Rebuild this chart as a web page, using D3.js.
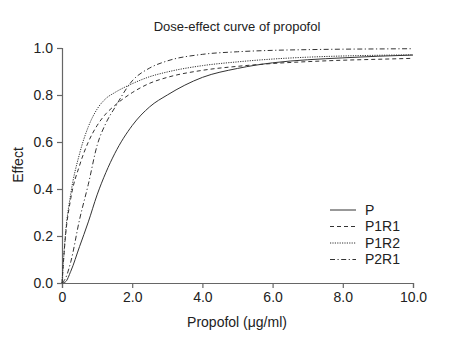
<!DOCTYPE html>
<html>
<head>
<meta charset="utf-8">
<script src="https://cdn.jsdelivr.net/npm/d3@7"></script>
<style>
  body { margin: 0; background: #fff; }
  svg { font-family: "Liberation Sans", Arial, sans-serif; }
</style>
</head>
<body>
<div id="chart"></div>
<script>
// dose grid (µg/ml) and effect readings for each group
const doses = [0, 0.1, 0.25, 0.5, 0.75, 1, 1.25, 1.5, 2, 2.5, 3, 4, 5, 6, 7, 8, 9, 10];
const effectP    = [0, 0.005, 0.05, 0.155, 0.26, 0.375, 0.47, 0.55, 0.67, 0.75, 0.8, 0.875, 0.913, 0.937, 0.95, 0.958, 0.965, 0.97];
const effectP1R1 = [0, 0.2, 0.36, 0.5, 0.6, 0.67, 0.72, 0.755, 0.81, 0.85, 0.875, 0.905, 0.922, 0.934, 0.942, 0.948, 0.952, 0.956];
const effectP1R2 = [0, 0.21, 0.38, 0.55, 0.665, 0.74, 0.785, 0.81, 0.848, 0.878, 0.898, 0.925, 0.941, 0.953, 0.961, 0.966, 0.969, 0.971];
const effectP2R1 = [0, 0.02, 0.09, 0.27, 0.42, 0.585, 0.68, 0.745, 0.86, 0.915, 0.945, 0.973, 0.984, 0.99, 0.993, 0.995, 0.996, 0.997];

const seriesNames = ["P", "P1R1", "P1R2", "P2R1"];
const xTicks = [0, 2, 4, 6, 8, 10];
const yTicks = [0, 0.2, 0.4, 0.6, 0.8, 1.0];

const width = 453, height = 337;
const margin = {top: 48, right: 40, bottom: 54, left: 62};

const series = [
  {name: seriesNames[0], values: effectP,    dash: null},
  {name: seriesNames[1], values: effectP1R1, dash: "4,3"},
  {name: seriesNames[2], values: effectP1R2, dash: "1.2,1.2"},
  {name: seriesNames[3], values: effectP2R1, dash: "5,2.5,1.2,2.5"}
];

const svg = d3.select("#chart").append("svg")
  .attr("width", width)
  .attr("height", height);

const x = d3.scaleLinear().domain([0, 10]).range([margin.left, width - margin.right]);
const y = d3.scaleLinear().domain([0, 1]).range([height - margin.bottom, margin.top]);

// title
svg.append("text")
  .attr("x", 237)
  .attr("y", 31)
  .attr("text-anchor", "middle")
  .attr("font-size", 13)
  .attr("fill", "#222")
  .text("Dose-effect curve of propofol");

// axes
const xAxis = svg.append("g")
  .attr("transform", `translate(0,${height - margin.bottom})`)
  .call(d3.axisBottom(x).tickValues(xTicks)
    .tickFormat(d => d === 0 ? "0" : d.toFixed(1))
    .tickSizeOuter(0).tickSize(5).tickPadding(4));

const yAxis = svg.append("g")
  .attr("transform", `translate(${margin.left},0)`)
  .call(d3.axisLeft(y).tickValues(yTicks)
    .tickFormat(d3.format(".1f"))
    .tickSizeOuter(0).tickSize(5).tickPadding(4));

[xAxis, yAxis].forEach(a => {
  a.selectAll("path, line").attr("stroke", "#666").attr("stroke-width", 1.2);
  a.selectAll("text").attr("font-size", 14).attr("fill", "#222")
    .attr("font-family", "'Liberation Sans', Arial, sans-serif");
});

// axis titles
svg.append("text")
  .attr("x", 237)
  .attr("y", 327)
  .attr("text-anchor", "middle")
  .attr("font-size", 14)
  .attr("fill", "#222")
  .text("Propofol (\u03bcg/ml)");

svg.append("text")
  .attr("transform", "translate(23,165) rotate(-90)")
  .attr("text-anchor", "middle")
  .attr("font-size", 14)
  .attr("fill", "#222")
  .text("Effect");

// curves
const line = d3.line()
  .x((d, i) => x(doses[i]))
  .y(d => y(d))
  .curve(d3.curveMonotoneX);

svg.append("g")
  .selectAll("path")
  .data(series)
  .join("path")
  .attr("fill", "none")
  .attr("stroke", "#333")
  .attr("stroke-width", 1)
  .attr("stroke-dasharray", d => d.dash)
  .attr("d", d => line(d.values));

// legend
const legend = svg.append("g")
  .selectAll("g")
  .data(series)
  .join("g")
  .attr("transform", (d, i) => `translate(330,${210 + i * 16.5})`);

legend.append("line")
  .attr("x1", 0).attr("x2", 26)
  .attr("stroke", "#333")
  .attr("stroke-width", 1)
  .attr("stroke-dasharray", d => d.dash);

legend.append("text")
  .attr("x", 35)
  .attr("dy", "0.35em")
  .attr("font-size", 14)
  .attr("fill", "#222")
  .text(d => d.name);
</script>
</body>
</html>
